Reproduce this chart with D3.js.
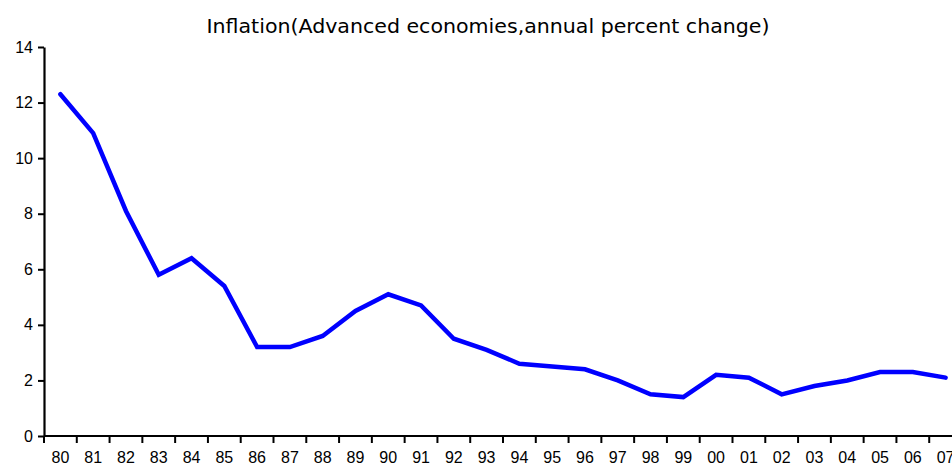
<!DOCTYPE html>
<html><head><meta charset="utf-8">
<script src="https://cdn.jsdelivr.net/npm/d3@7"></script>
<style>body{margin:0;background:#fff}svg{display:block}</style>
</head><body>
<svg id="c" width="952" height="468"></svg>
<script>
const years = ["80","81","82","83","84","85","86","87","88","89","90","91","92","93","94","95","96","97","98","99","00","01","02","03","04","05","06","07"];
const inflation = [12.3,10.9,8.1,5.8,6.4,5.4,3.2,3.2,3.6,4.5,5.1,4.7,3.5,3.1,2.6,2.5,2.4,2.0,1.5,1.4,2.2,2.1,1.5,1.8,2.0,2.3,2.3,2.1];
const yTicks = [0,2,4,6,8,10,12,14];
const title = "Inflation(Advanced economies,annual percent change)";

const svg = d3.select("#c");
const mLeft = 44, mTop = 47, mBottom = 436, mRight = 962;

const x = d3.scaleBand().domain(years).range([mLeft, mRight]).paddingInner(0).paddingOuter(0);
const y = d3.scaleLinear().domain([0, 14]).range([mBottom, mTop]);

svg.append("text")
  .attr("x", 488).attr("y", 33)
  .attr("text-anchor", "middle")
  .attr("font-family", "'DejaVu Sans Condensed','Liberation Sans Narrow',sans-serif")
  .attr("font-size", 20)
  .attr("textLength", 563).attr("lengthAdjust", "spacingAndGlyphs")
  .attr("fill", "#000")
  .text(title);

// Y axis
const yAxis = svg.append("g").attr("transform", `translate(${mLeft},0)`)
  .call(d3.axisLeft(y).tickValues(yTicks).tickFormat(d3.format("d")).tickSize(6).tickSizeOuter(0).tickPadding(5));
yAxis.select(".domain").attr("stroke", "#000").attr("stroke-width", 2.2);
yAxis.selectAll(".tick line").attr("stroke", "#000").attr("stroke-width", 2);
yAxis.selectAll(".tick text").attr("font-family", "'Liberation Sans',Arial,sans-serif").attr("font-size", 16).attr("fill", "#000");

// X axis: ticks at band boundaries
const xAxisG = svg.append("g").attr("transform", `translate(0,${mBottom})`);
xAxisG.append("line").attr("x1", mLeft).attr("x2", 952).attr("y1", 0).attr("y2", 0)
  .attr("stroke", "#000").attr("stroke-width", 2.2);
xAxisG.selectAll("line.tk").data(years).join("line").attr("class", "tk")
  .attr("x1", d => x(d)).attr("x2", d => x(d)).attr("y1", 0).attr("y2", 7)
  .attr("stroke", "#000").attr("stroke-width", 2);
xAxisG.selectAll("text").data(years).join("text")
  .attr("x", d => x(d) + x.bandwidth() / 2).attr("y", 27)
  .attr("text-anchor", "middle")
  .attr("font-family", "'Liberation Sans',Arial,sans-serif").attr("font-size", 16).attr("fill", "#000")
  .text(d => d);

// Line
const line = d3.line().x((d, i) => x(years[i]) + x.bandwidth() / 2).y(d => y(d));
svg.append("path").datum(inflation)
  .attr("d", line)
  .attr("fill", "none").attr("stroke", "#0000ff").attr("stroke-width", 4.5)
  .attr("stroke-linejoin", "miter").attr("stroke-linecap", "round");
</script>
</body></html>
